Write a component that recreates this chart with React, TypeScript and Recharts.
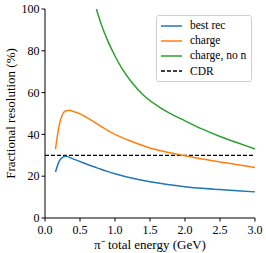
import { LineChart, Line, XAxis, YAxis, ReferenceLine, Legend } from "recharts";

const FONT = "Liberation Serif";

/* energy (GeV) / resolution (%) per series */
const bestRecX = [0.15, 0.2, 0.25, 0.3, 0.4, 0.5, 0.6, 0.7, 0.8, 0.9, 1.0, 1.25, 1.5, 1.75, 2.0, 2.25, 2.5, 2.75, 3.0];
const bestRecY = [22, 27, 29, 29.5, 28.3, 27, 25.7, 24.5, 23.3, 22.2, 21.2, 19, 17.3, 16, 15, 14.2, 13.6, 13, 12.5];

const chargeX = [0.15, 0.2, 0.25, 0.3, 0.35, 0.4, 0.5, 0.6, 0.7, 0.8, 0.9, 1.0, 1.25, 1.5, 1.75, 2.0, 2.25, 2.5, 2.75, 3.0];
const chargeY = [33, 44, 49.5, 51.3, 51.5, 51, 49.8, 48, 46, 43.8, 41.8, 40, 36.5, 33.5, 31.5, 29.8, 28.2, 26.8, 25.5, 24.2];

const noNX = [0.7, 0.8, 0.9, 1.0, 1.1, 1.25, 1.4, 1.6, 1.8, 2.0, 2.25, 2.5, 2.75, 3.0];
const noNY = [104, 93, 84.5, 77.5, 71.5, 64.5, 59, 53.8, 49.8, 46.5, 42.5, 39, 36, 33];

const CDR = 30;
const xTicks = [0, 0.5, 1, 1.5, 2, 2.5, 3];
const yTicks = [0, 20, 40, 60, 80, 100];

const zip = (xs: number[], ys: number[]) => xs.map((x, i) => ({ x, y: ys[i] }));

const LEGEND = [
  { label: "best rec", color: "#1f77b4", dash: undefined },
  { label: "charge", color: "#ff7f0e", dash: undefined },
  { label: "charge, no n", color: "#2ca02c", dash: undefined },
  { label: "CDR", color: "#000", dash: "4 2" },
];

function LegendBox() {
  return (
    <div
      style={{
        border: "1px solid #d0d0d0",
        borderRadius: 3,
        background: "rgba(255,255,255,0.85)",
        padding: "2px 5px 2px 4px",
        fontFamily: FONT,
        fontSize: 11.5,
        lineHeight: "15.2px",
        color: "#000",
      }}
    >
      {LEGEND.map((l) => (
        <div key={l.label} style={{ display: "flex", alignItems: "center", whiteSpace: "nowrap" }}>
          <svg width={22} height={6} style={{ marginRight: 7 }}>
            <line x1={0} y1={3} x2={21} y2={3} stroke={l.color} strokeWidth={1.5} strokeDasharray={l.dash} />
          </svg>
          {l.label}
        </div>
      ))}
    </div>
  );
}

function YLabel(props: any) {
  const vb = props.viewBox || {};
  const cy = (vb.y ?? 9) + (vb.height ?? 209) / 2;
  return (
    <text
      x={10}
      y={cy}
      transform={`rotate(-90 10 ${cy})`}
      textAnchor="middle"
      dominantBaseline="central"
      fill="#000"
      fontSize={13}
      fontFamily={FONT}
    >
      Fractional resolution (%)
    </text>
  );
}

export default function App() {
  const tick = { fill: "#000", fontSize: 12, fontFamily: FONT };
  return (
    <div style={{ position: "fixed", left: 0, top: 0, background: "#fff", fontFamily: FONT }}>
      <LineChart width={266} height={253} margin={{ top: 9, right: 11, left: 0, bottom: 0 }} style={{ fontFamily: FONT }}>
        <XAxis
          type="number"
          dataKey="x"
          domain={[0, 3]}
          ticks={xTicks}
          tickFormatter={(v: number) => v.toFixed(1)}
          tick={{ ...tick, dy: 2 }}
          tickSize={3.5}
          stroke="#000"
          height={35}
          label={{ value: "π⁻ total energy (GeV)", position: "insideBottom", offset: 4, fill: "#000", fontSize: 13, fontFamily: FONT }}
        />
        <XAxis xAxisId="top" orientation="top" type="number" domain={[0, 3]} tick={false} tickLine={false} stroke="#000" height={0} />
        <YAxis
          type="number"
          domain={[0, 100]}
          ticks={yTicks}
          allowDataOverflow
          tick={tick}
          tickSize={3.5}
          stroke="#000"
          width={45}
          label={<YLabel />}
        />
        <YAxis yAxisId="right" orientation="right" domain={[0, 100]} tick={false} tickLine={false} stroke="#000" width={0} />
        <ReferenceLine y={CDR} stroke="#000" strokeWidth={1.2} strokeDasharray="4 2" />
        <Line data={zip(bestRecX, bestRecY)} dataKey="y" type="monotone" stroke="#1f77b4" strokeWidth={1.5} dot={false} isAnimationActive={false} />
        <Line data={zip(chargeX, chargeY)} dataKey="y" type="monotone" stroke="#ff7f0e" strokeWidth={1.5} dot={false} isAnimationActive={false} />
        <Line data={zip(noNX, noNY)} dataKey="y" type="monotone" stroke="#2ca02c" strokeWidth={1.5} dot={false} isAnimationActive={false} />
        <Legend
          layout="horizontal"
          verticalAlign="middle"
          align="center"
          content={() => <LegendBox />}
          wrapperStyle={{ top: 15, left: 156, width: "auto" }}
        />
      </LineChart>
    </div>
  );
}
